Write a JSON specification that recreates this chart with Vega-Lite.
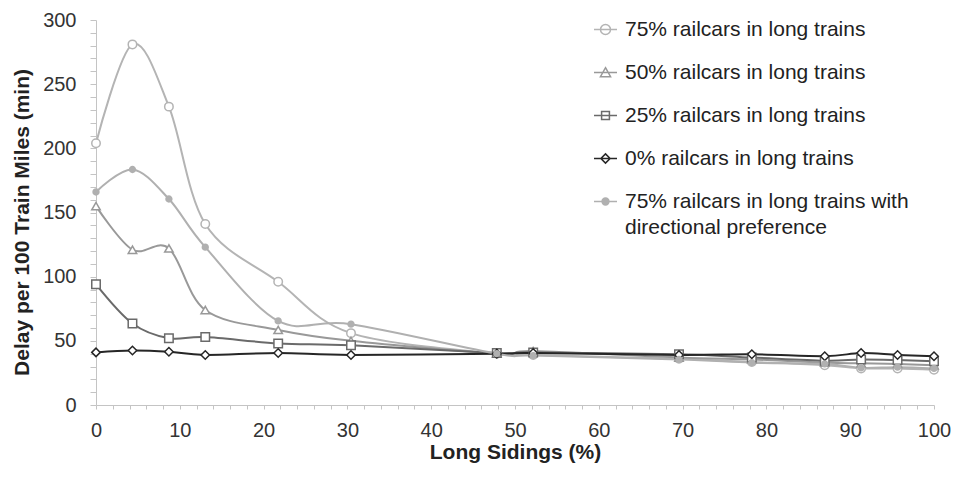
{
  "$schema": "https://vega.github.io/schema/vega-lite/v6.json",
  "width": 838,
  "height": 385,
  "autosize": {"type": "none"},
  "padding": {"left": 96, "top": 20, "right": 20, "bottom": 72},
  "background": "white",
  "config": {
    "font": "Liberation Sans",
    "view": {"stroke": null},
    "axis": {"grid": false, "domainColor": "#c4c4c4", "tickColor": "#c4c4c4", "labelColor": "#333333", "titleColor": "#222222", "labelFont": "Liberation Sans", "titleFont": "Liberation Sans"}
  },
  "data": {
    "values": [
      {"series": "75% railcars in long trains", "x": 0, "y": 204},
      {"series": "75% railcars in long trains", "x": 4.35, "y": 281},
      {"series": "75% railcars in long trains", "x": 8.7, "y": 232.5},
      {"series": "75% railcars in long trains", "x": 13.04, "y": 141},
      {"series": "75% railcars in long trains", "x": 21.74, "y": 96},
      {"series": "75% railcars in long trains", "x": 30.43, "y": 56},
      {"series": "75% railcars in long trains", "x": 47.83, "y": 40},
      {"series": "75% railcars in long trains", "x": 52.17, "y": 39},
      {"series": "75% railcars in long trains", "x": 69.57, "y": 36},
      {"series": "75% railcars in long trains", "x": 78.26, "y": 33.5},
      {"series": "75% railcars in long trains", "x": 86.96, "y": 31},
      {"series": "75% railcars in long trains", "x": 91.3, "y": 28.5},
      {"series": "75% railcars in long trains", "x": 95.65, "y": 28.5},
      {"series": "75% railcars in long trains", "x": 100, "y": 27.5},
      {"series": "50% railcars in long trains", "x": 0, "y": 155},
      {"series": "50% railcars in long trains", "x": 4.35, "y": 121},
      {"series": "50% railcars in long trains", "x": 8.7, "y": 122},
      {"series": "50% railcars in long trains", "x": 13.04, "y": 74},
      {"series": "50% railcars in long trains", "x": 21.74, "y": 58.5},
      {"series": "50% railcars in long trains", "x": 30.43, "y": 50},
      {"series": "50% railcars in long trains", "x": 47.83, "y": 40},
      {"series": "50% railcars in long trains", "x": 52.17, "y": 42},
      {"series": "50% railcars in long trains", "x": 69.57, "y": 37},
      {"series": "50% railcars in long trains", "x": 78.26, "y": 35.5},
      {"series": "50% railcars in long trains", "x": 86.96, "y": 33},
      {"series": "50% railcars in long trains", "x": 91.3, "y": 32.5},
      {"series": "50% railcars in long trains", "x": 95.65, "y": 32},
      {"series": "50% railcars in long trains", "x": 100, "y": 31},
      {"series": "25% railcars in long trains", "x": 0, "y": 94},
      {"series": "25% railcars in long trains", "x": 4.35, "y": 63.5},
      {"series": "25% railcars in long trains", "x": 8.7, "y": 52},
      {"series": "25% railcars in long trains", "x": 13.04, "y": 53},
      {"series": "25% railcars in long trains", "x": 21.74, "y": 48},
      {"series": "25% railcars in long trains", "x": 30.43, "y": 46.5},
      {"series": "25% railcars in long trains", "x": 47.83, "y": 40.5},
      {"series": "25% railcars in long trains", "x": 52.17, "y": 41},
      {"series": "25% railcars in long trains", "x": 69.57, "y": 39.5},
      {"series": "25% railcars in long trains", "x": 78.26, "y": 37},
      {"series": "25% railcars in long trains", "x": 86.96, "y": 34.5},
      {"series": "25% railcars in long trains", "x": 91.3, "y": 35.5},
      {"series": "25% railcars in long trains", "x": 95.65, "y": 35},
      {"series": "25% railcars in long trains", "x": 100, "y": 34},
      {"series": "0% railcars in long trains", "x": 0, "y": 41},
      {"series": "0% railcars in long trains", "x": 4.35, "y": 42.5},
      {"series": "0% railcars in long trains", "x": 8.7, "y": 41.5},
      {"series": "0% railcars in long trains", "x": 13.04, "y": 39},
      {"series": "0% railcars in long trains", "x": 21.74, "y": 40.5},
      {"series": "0% railcars in long trains", "x": 30.43, "y": 39},
      {"series": "0% railcars in long trains", "x": 47.83, "y": 40},
      {"series": "0% railcars in long trains", "x": 52.17, "y": 40.5},
      {"series": "0% railcars in long trains", "x": 69.57, "y": 39},
      {"series": "0% railcars in long trains", "x": 78.26, "y": 39.5},
      {"series": "0% railcars in long trains", "x": 86.96, "y": 38},
      {"series": "0% railcars in long trains", "x": 91.3, "y": 40.5},
      {"series": "0% railcars in long trains", "x": 95.65, "y": 39},
      {"series": "0% railcars in long trains", "x": 100, "y": 38},
      {"series": "75% railcars in long trains with directional preference", "x": 0, "y": 166},
      {"series": "75% railcars in long trains with directional preference", "x": 4.35, "y": 183.5},
      {"series": "75% railcars in long trains with directional preference", "x": 8.7, "y": 160.5},
      {"series": "75% railcars in long trains with directional preference", "x": 13.04, "y": 123},
      {"series": "75% railcars in long trains with directional preference", "x": 21.74, "y": 65.5},
      {"series": "75% railcars in long trains with directional preference", "x": 30.43, "y": 63},
      {"series": "75% railcars in long trains with directional preference", "x": 47.83, "y": 40},
      {"series": "75% railcars in long trains with directional preference", "x": 52.17, "y": 38.5},
      {"series": "75% railcars in long trains with directional preference", "x": 69.57, "y": 35.5},
      {"series": "75% railcars in long trains with directional preference", "x": 78.26, "y": 33},
      {"series": "75% railcars in long trains with directional preference", "x": 86.96, "y": 32},
      {"series": "75% railcars in long trains with directional preference", "x": 91.3, "y": 29},
      {"series": "75% railcars in long trains with directional preference", "x": 95.65, "y": 29.5},
      {"series": "75% railcars in long trains with directional preference", "x": 100, "y": 28.5}
    ]
  },
  "encoding": {
    "x": {
      "field": "x", "type": "quantitative",
      "scale": {"domain": [0, 100], "nice": false},
      "axis": {
        "values": [0,2,4,6,8,10,12,14,16,18,20,22,24,26,28,30,32,34,36,38,40,42,44,46,48,50,52,54,56,58,60,62,64,66,68,70,72,74,76,78,80,82,84,86,88,90,92,94,96,98,100],
        "labelExpr": "datum.value % 10 === 0 ? datum.label : ''",
        "labelOverlap": false, "labelFlush": false,
        "tickSize": 4, "labelFontSize": 20, "labelPadding": 11,
        "title": "Long Sidings (%)", "titleFontSize": 21, "titleFontWeight": "bold", "titlePadding": 1
      }
    },
    "y": {
      "field": "y", "type": "quantitative",
      "scale": {"domain": [0, 300], "nice": false},
      "axis": {
        "values": [0,10,20,30,40,50,60,70,80,90,100,110,120,130,140,150,160,170,180,190,200,210,220,230,240,250,260,270,280,290,300],
        "labelExpr": "datum.value % 50 === 0 ? datum.label : ''",
        "labelOverlap": false, "labelFlush": false,
        "tickSize": 6, "labelFontSize": 20, "labelPadding": 14,
        "title": "Delay per 100 Train Miles (min)", "titleFontSize": 21, "titleFontWeight": "bold", "titlePadding": 10, "titleY": 202
      }
    }
  },
  "layer": [
    {
      "mark": {"type": "line", "interpolate": "cardinal", "strokeWidth": 2},
      "encoding": {
        "color": {
          "field": "series", "type": "nominal",
          "scale": {
            "domain": ["75% railcars in long trains", "50% railcars in long trains", "25% railcars in long trains", "0% railcars in long trains", "75% railcars in long trains with directional preference"],
            "range": ["#b4b4b4", "#999999", "#6a6a6a", "#262626", "#b0b0b0"]
          },
          "legend": {
            "title": null,
            "orient": "none",
            "legendX": 497,
            "legendY": -3,
            "padding": 0,
            "symbolSize": 529,
            "symbolStrokeWidth": 1.5,
            "symbolFillColor": "transparent",
            "labelFontSize": 21,
            "labelColor": "#222222",
            "labelLimit": 500,
            "labelOffset": 7,
            "rowPadding": 20,
            "labelExpr": "datum.label === '75% railcars in long trains with directional preference' ? ['75% railcars in long trains with', 'directional preference'] : datum.label",
            "encode": {
              "symbols": {
                "update": {
                  "shape": {"signal": "datum.value === '75% railcars in long trains' ? 'M-1,0H1M0.435,0A0.435,0.435,0,1,1,-0.435,0A0.435,0.435,0,1,1,0.435,0Z' : datum.value === '50% railcars in long trains' ? 'M-1,0H1M0,-0.42L0.44,0.36L-0.44,0.36Z' : datum.value === '25% railcars in long trains' ? 'M-1,0H1M-0.34,-0.34H0.34V0.34H-0.34Z' : datum.value === '0% railcars in long trains' ? 'M-1,0H1M0,-0.4L0.4,0L0,0.4L-0.4,0Z' : 'M-1,0H1M0.3,0A0.3,0.3,0,1,1,-0.3,0A0.3,0.3,0,1,1,0.3,0ZM0.18,0A0.18,0.18,0,1,1,-0.18,0A0.18,0.18,0,1,1,0.18,0ZM0.07,0A0.07,0.07,0,1,1,-0.07,0A0.07,0.07,0,1,1,0.07,0Z'"},
                  "fill": {"signal": "datum.value === '75% railcars in long trains with directional preference' ? scale('color', datum.value) : 'transparent'"},
                  "stroke": {"signal": "scale('color', datum.value)"},
                  "strokeWidth": {"value": 1.5},
                  "opacity": {"value": 1}
                }
              },
              "labels": {
                "update": {
                  "lineHeight": {"value": 26}
                }
              }
            }
          }
        }
      }
    },
    {
      "transform": [{"filter": "datum.series !== '75% railcars in long trains with directional preference'"}],
      "mark": {"type": "point", "filled": false, "fill": "white", "size": 72, "strokeWidth": 1.5, "opacity": 1},
      "encoding": {
        "color": {"field": "series", "type": "nominal", "legend": null},
        "shape": {
          "field": "series", "type": "nominal",
          "scale": {
            "domain": ["75% railcars in long trains", "50% railcars in long trains", "25% railcars in long trains", "0% railcars in long trains"],
            "range": ["circle", "triangle-up", "square", "diamond"]
          },
          "legend": null
        }
      }
    },
    {
      "transform": [{"filter": "datum.series === '75% railcars in long trains with directional preference'"}],
      "mark": {"type": "point", "shape": "circle", "filled": false, "size": 14, "strokeWidth": 3.6, "opacity": 1},
      "encoding": {
        "color": {"field": "series", "type": "nominal", "legend": null}
      }
    }
  ]
}
